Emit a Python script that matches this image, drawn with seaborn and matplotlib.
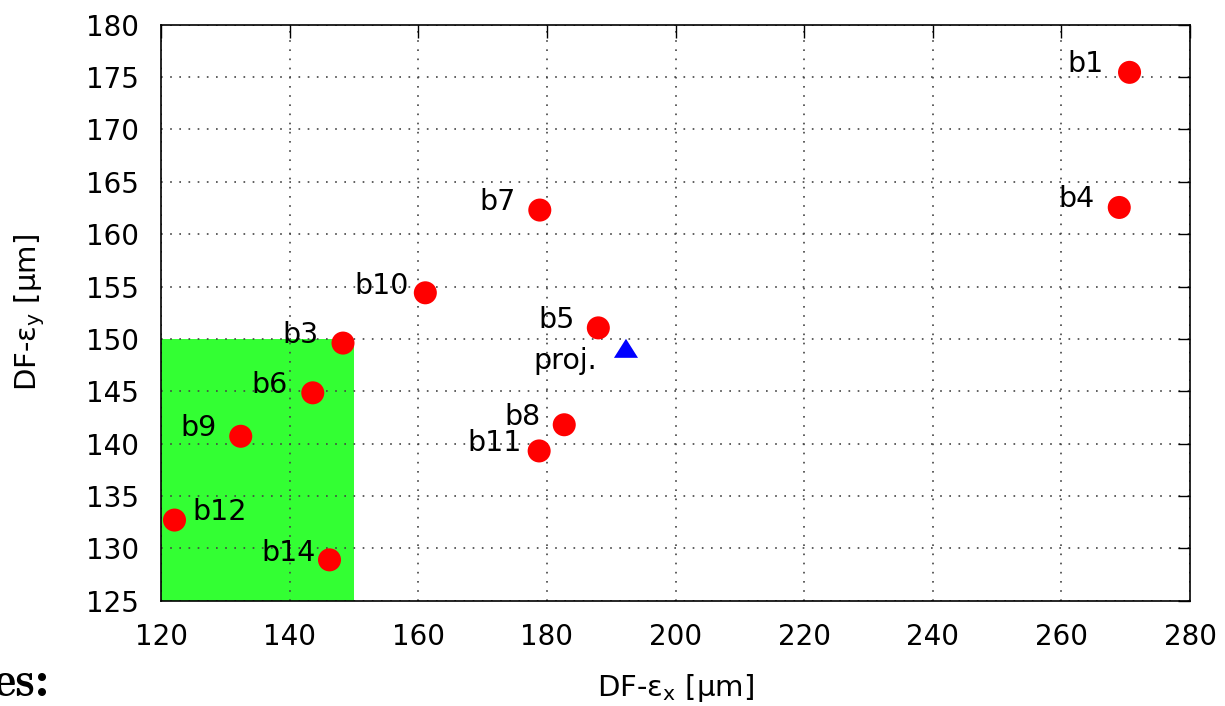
import matplotlib
matplotlib.use("Agg")
import matplotlib.pyplot as plt
import seaborn as sns
import pandas as pd
from matplotlib.patches import Rectangle

# ---- data ----
names = ['b1', 'b3', 'b4', 'b5', 'b6', 'b7', 'b8', 'b9', 'b10', 'b11', 'b12', 'b14']
eps_x = [270.6, 148.3, 269.0, 188.0, 143.6, 178.9, 182.7, 132.4, 161.1, 178.8, 122.1, 146.2]
eps_y = [175.45, 149.6, 162.55, 151.05, 144.85, 162.3, 141.8, 140.7, 154.4, 139.3, 132.7, 128.9]
proj_x = [192.3]
proj_y = [149.1]
proj_label = 'proj.'
box_x = [120, 150]
box_y = [125, 150]
xticks = list(range(120, 281, 20))
yticks = list(range(125, 181, 5))

# label offsets in pixels (dx, dy, ha)
offsets = {'b1': (-26, 8, 'right'), 'b3': (-25, 8, 'right'), 'b4': (-25, 8, 'right'),
           'b5': (-24, 8, 'right'), 'b6': (-25, 8, 'right'), 'b7': (-24, 8, 'right'),
           'b8': (-24, 8, 'right'), 'b9': (-24, 8, 'right'), 'b10': (-17, 7, 'right'),
           'b11': (-17, 8, 'right'), 'b12': (18, 8, 'left'), 'b14': (-14, 7, 'right')}

sns.set_style('white')
plt.rcParams['font.family'] = ['DejaVu Sans']
plt.rcParams['text.color'] = 'black'
plt.rcParams['axes.labelcolor'] = 'black'
plt.rcParams['xtick.color'] = 'black'
plt.rcParams['ytick.color'] = 'black'

fig = plt.figure(figsize=(12.25, 7.06), dpi=100)
ax = fig.add_axes([161/1225, 1 - 600.7/706, (1190-161)/1225, (600.7-24.7)/706])

ax.add_patch(Rectangle((box_x[0], box_y[0]), box_x[1]-box_x[0], box_y[1]-box_y[0],
                       facecolor='#33ff33', edgecolor='none', zorder=0.2))

df = pd.DataFrame({'x': eps_x, 'y': eps_y, 'name': names})
sns.scatterplot(data=df, x='x', y='y', ax=ax, color='#ff0000', s=275,
                edgecolor='none', linewidth=0, zorder=3, legend=False)
tri = [(-1.2, -0.95), (1.2, -0.95), (0, 0.95)]
sns.scatterplot(x=proj_x, y=proj_y, ax=ax, color='#0000ff', marker=tri, s=300,
                edgecolor='none', linewidth=0, zorder=3, legend=False)

for n, xv, yv in zip(names, eps_x, eps_y):
    dx, dy, ha = offsets[n]
    ax.annotate(n, (xv, yv), xytext=(dx, dy), textcoords='offset pixels',
                ha=ha, va='center', fontsize=20.5, color='black', zorder=4)
ax.annotate(proj_label, (proj_x[0], proj_y[0]), xytext=(-29, -13), textcoords='offset pixels',
            ha='right', va='center', fontsize=20.5, color='black', zorder=4)

ax.set_xlim(120, 280)
ax.set_ylim(125, 180)
ax.set_xticks(xticks)
ax.set_yticks(yticks)
ax.tick_params(axis='both', which='major', direction='in', length=9, width=1,
               top=True, right=True, labelsize=20, pad=16, color='black',
               labelcolor='black')
ax.set_axisbelow(True)
ax.grid(True, color='#444444', linestyle=(0, (1, 4.5)), linewidth=1.2, zorder=0.5)
for sp in ax.spines.values():
    sp.set_visible(True)
    sp.set_color('black')
    sp.set_linewidth(1.2)

ax.set_xlabel('DF-ε$_\\mathregular{x}$ [μm]', fontsize=21, labelpad=15, color='black')
ax.set_ylabel('DF-ε$_\\mathregular{y}$ [μm]', fontsize=21, labelpad=28, color='black')

fig.text(-0.006, 0.0, 'es:', fontsize=36, fontfamily='cmb10', ha='left', va='bottom',
         color='black')

fig.savefig('out.png', dpi=100)
